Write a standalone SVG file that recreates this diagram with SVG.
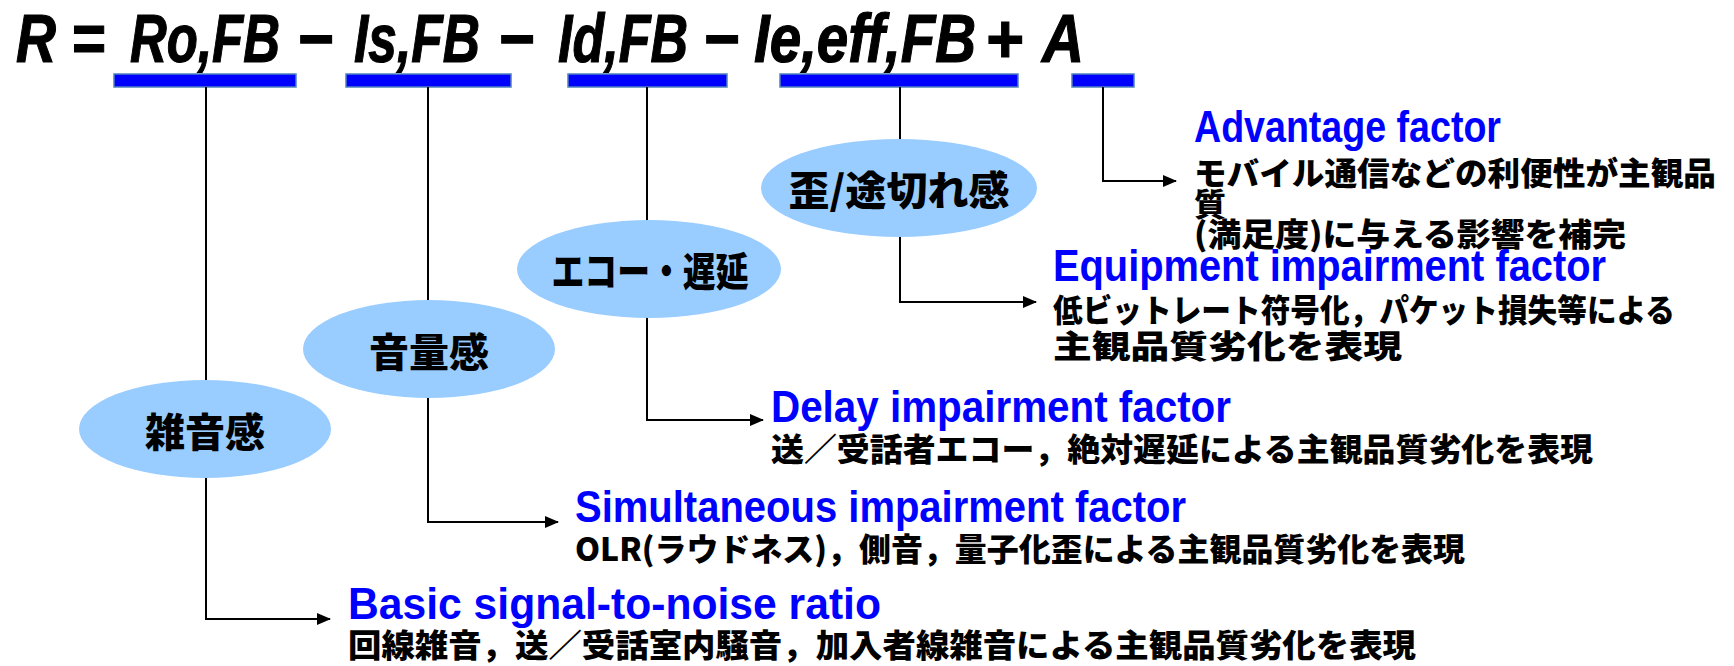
<svg xmlns="http://www.w3.org/2000/svg" width="1734" height="666" viewBox="0 0 1734 666">
<defs>
<style>
.title{font-family:"Liberation Sans",Arial,sans-serif;font-weight:bold;font-style:italic;font-size:68px;fill:#000;stroke:#000;stroke-width:1.2}
.bar{fill:#0000FF;stroke:#4F81BD;stroke-width:1.5}
.ell{fill:#99CCFF}
.etxt{font-family:"Noto Sans CJK JP",sans-serif;font-weight:900;font-size:40px;fill:#000;text-anchor:middle}
.lbl{font-family:"Liberation Sans",Arial,sans-serif;font-weight:bold;font-size:44px;fill:#0000FF}
.desc{font-family:"Noto Sans CJK JP",sans-serif;font-weight:900;font-size:32px;fill:#000}
.conn{fill:none;stroke:#000;stroke-width:2}
</style>
<marker id="arr" markerWidth="14" markerHeight="12" refX="13" refY="6" orient="auto" markerUnits="userSpaceOnUse">
<path d="M0,0 L14,6 L0,12 Z" fill="#000"/>
</marker>
</defs>
<rect width="1734" height="666" fill="#fff"/>
<g id="formula">
<text class="title" x="16" y="62" textLength="40" lengthAdjust="spacingAndGlyphs">R</text>
<text class="title" x="71" y="62" textLength="34" lengthAdjust="spacingAndGlyphs">=</text>
<text class="title" x="130" y="62" textLength="150" lengthAdjust="spacingAndGlyphs">Ro,FB</text>
<text class="title" x="297" y="62" textLength="36" lengthAdjust="spacingAndGlyphs">−</text>
<text class="title" x="354" y="62" textLength="126" lengthAdjust="spacingAndGlyphs">Is,FB</text>
<text class="title" x="498" y="62" textLength="36" lengthAdjust="spacingAndGlyphs">−</text>
<text class="title" x="558" y="62" textLength="130" lengthAdjust="spacingAndGlyphs">Id,FB</text>
<text class="title" x="703" y="62" textLength="36" lengthAdjust="spacingAndGlyphs">−</text>
<text class="title" x="754" y="62" textLength="222" lengthAdjust="spacingAndGlyphs">Ie,eff,FB</text>
<text class="title" x="985" y="62" textLength="38" lengthAdjust="spacingAndGlyphs">+</text>
<text class="title" x="1042" y="62" textLength="42" lengthAdjust="spacingAndGlyphs">A</text>
</g>
<g id="bars">
<rect class="bar" x="114" y="74" width="182" height="13"/>
<rect class="bar" x="346" y="74" width="165" height="13"/>
<rect class="bar" x="568" y="74" width="159" height="13"/>
<rect class="bar" x="780" y="74" width="238" height="13"/>
<rect class="bar" x="1072" y="74" width="62" height="13"/>
</g>
<g id="connectors">
<path class="conn" d="M206,87 V619 H330" marker-end="url(#arr)"/>
<path class="conn" d="M428,87 V522 H558" marker-end="url(#arr)"/>
<path class="conn" d="M647,87 V420 H763" marker-end="url(#arr)"/>
<path class="conn" d="M900,87 V302 H1036" marker-end="url(#arr)"/>
<path class="conn" d="M1103,87 V181 H1176" marker-end="url(#arr)"/>
</g>
<g id="node-noise">
<ellipse class="ell" cx="205" cy="429" rx="126" ry="49"/>
<text class="etxt" x="205" y="447">雑音感</text>
</g>
<g id="node-loudness">
<ellipse class="ell" cx="429" cy="349" rx="126" ry="49"/>
<text class="etxt" x="429" y="367">音量感</text>
</g>
<g id="node-echo">
<ellipse class="ell" cx="649" cy="269" rx="132" ry="49"/>
<text class="etxt" x="650" y="286" textLength="197" lengthAdjust="spacingAndGlyphs">エコー・遅延</text>
</g>
<g id="node-distortion">
<ellipse class="ell" cx="899" cy="188" rx="138" ry="49"/>
<text class="etxt" x="899" y="205" textLength="221" lengthAdjust="spacingAndGlyphs">歪/途切れ感</text>
</g>
<g id="label-advantage">
<text class="lbl" x="1194" y="142" textLength="307" lengthAdjust="spacingAndGlyphs">Advantage factor</text>
<text class="desc" x="1194" y="185" textLength="522" lengthAdjust="spacingAndGlyphs">モバイル通信などの利便性が主観品</text>
<text class="desc" x="1194" y="216">質</text>
<text class="desc" x="1194" y="246" textLength="432" lengthAdjust="spacingAndGlyphs">(満足度)に与える影響を補完</text>
</g>
<g id="label-equipment">
<text class="lbl" x="1053" y="281" textLength="553" lengthAdjust="spacingAndGlyphs">Equipment impairment factor</text>
<text class="desc" x="1053" y="322" textLength="622" lengthAdjust="spacingAndGlyphs">低ビットレート符号化，パケット損失等による</text>
<text class="desc" x="1053" y="358" textLength="349" lengthAdjust="spacingAndGlyphs">主観品質劣化を表現</text>
</g>
<g id="label-delay">
<text class="lbl" x="771" y="422" textLength="460" lengthAdjust="spacingAndGlyphs">Delay impairment factor</text>
<text class="desc" x="771" y="461" textLength="822" lengthAdjust="spacingAndGlyphs">送／受話者エコー，絶対遅延による主観品質劣化を表現</text>
</g>
<g id="label-simultaneous">
<text class="lbl" x="575" y="522" textLength="611" lengthAdjust="spacingAndGlyphs">Simultaneous impairment factor</text>
<text class="desc" x="575" y="561" textLength="890" lengthAdjust="spacingAndGlyphs">OLR(ラウドネス)，側音，量子化歪による主観品質劣化を表現</text>
</g>
<g id="label-basic">
<text class="lbl" x="348" y="619" textLength="533" lengthAdjust="spacingAndGlyphs">Basic signal-to-noise ratio</text>
<text class="desc" x="348" y="657" textLength="1068" lengthAdjust="spacingAndGlyphs">回線雑音，送／受話室内騒音，加入者線雑音による主観品質劣化を表現</text>
</g>
</svg>
